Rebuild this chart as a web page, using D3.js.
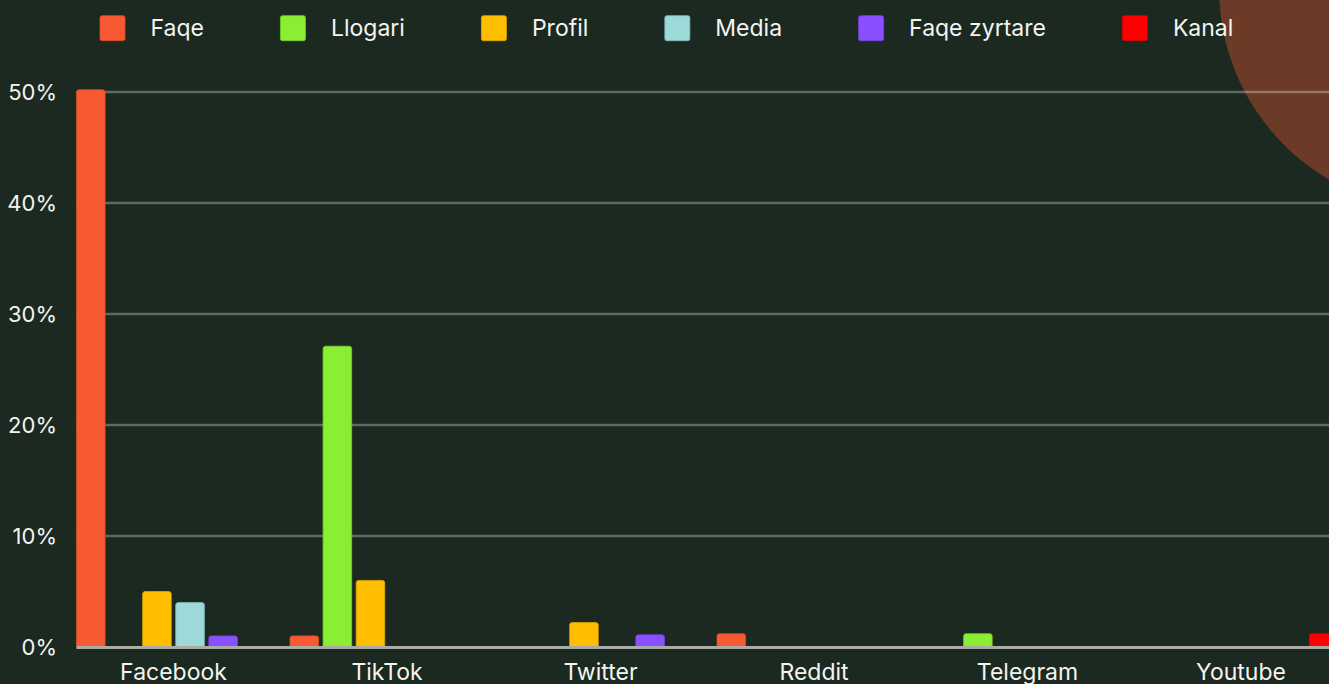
<!DOCTYPE html>
<html>
<head>
<meta charset="utf-8">
<script src="https://cdn.jsdelivr.net/npm/d3@7"></script>
<style>
  html, body { margin: 0; padding: 0; background: #1b2920; overflow: hidden; }
  svg { display: block; }
  text { font-family: Inter, "Noto Sans", sans-serif; fill: #f4f4f0; }
</style>
</head>
<body>
<svg id="chart" width="1329" height="684"></svg>
<script>
const categories = ["Facebook", "TikTok", "Twitter", "Reddit", "Telegram", "Youtube"];
const seriesNames = ["Faqe", "Llogari", "Profil", "Media", "Faqe zyrtare", "Kanal"];
const seriesColors = ["#f75a32", "#8aee32", "#ffbf00", "#9dd9d9", "#8a50ff", "#ff0000"];
// values in percent, one array per series, aligned with categories
const faqe        = [50.2, 1.0, 0,   1.2, 0,   0];
const llogari     = [0,   27.1, 0,   0,   1.2, 0];
const profil      = [5.0,  6.0, 2.2, 0,   0,   0];
const media       = [4.0,  0,   0,   0,   0,   0];
const faqeZyrtare = [1.0,  0,   1.1, 0,   0,   0];
const kanal       = [0,    0,   0,   0,   0,   1.2];
const yTicks = [0, 10, 20, 30, 40, 50];

const seriesValues = [faqe, llogari, profil, media, faqeZyrtare, kanal];
const W = 1329, H = 684;
const svg = d3.select("#chart");

// decorative circle
svg.append("circle").attr("cx", 1441).attr("cy", -12).attr("r", 222).attr("fill", "#6b3b27");

const plotLeft = 76.5, plotRight = 1338, yTop = 92, yBottom = 647;
const y = d3.scaleLinear().domain([0, 50]).range([yBottom, yTop]);
const x0 = d3.scaleBand().domain(categories).range([plotLeft, plotRight]).paddingInner(0.0913).paddingOuter(0);
const x1 = d3.scaleBand().domain(seriesNames).range([0, x0.bandwidth()]).paddingInner(0.136).paddingOuter(0);

// gridlines
svg.append("g").selectAll("line").data(yTicks.filter(t => t > 0)).join("line")
  .attr("x1", plotLeft).attr("x2", W + 20)
  .attr("y1", d => y(d)).attr("y2", d => y(d))
  .attr("stroke", "rgba(255,255,255,0.3)").attr("stroke-width", 2.5);

// y tick labels
svg.append("g").selectAll("text").data(yTicks).join("text")
  .attr("x", 57).attr("y", d => y(d) + 8)
  .attr("text-anchor", "end").attr("font-size", 22)
  .text(d => d + "%");

// bars
const rows = [];
categories.forEach((c, i) => seriesNames.forEach((s, j) => rows.push({c, s, j, v: seriesValues[j][i]})));
const r = 2.5;
svg.append("g").selectAll("path").data(rows.filter(d => d.v > 0)).join("path")
  .attr("d", d => {
    const bx = x0(d.c) + x1(d.s), bw = x1.bandwidth();
    const top = y(d.v), bot = y(0);
    const rr = Math.min(r, (bot - top) / 2);
    return `M${bx},${bot}V${top + rr}Q${bx},${top} ${bx + rr},${top}H${bx + bw - rr}Q${bx + bw},${top} ${bx + bw},${top + rr}V${bot}Z`;
  })
  .attr("fill", d => seriesColors[d.j])
  .attr("stroke", d => d3.color(seriesColors[d.j]).darker(0.4))
  .attr("stroke-width", 0.8);

// baseline
svg.append("line").attr("x1", plotLeft).attr("x2", W + 20)
  .attr("y1", y(0) + 0.5).attr("y2", y(0) + 0.5)
  .attr("stroke", "#a9aca6").attr("stroke-width", 3);

// x labels
svg.append("g").selectAll("text").data(categories).join("text")
  .attr("x", d => x0(d) + x0.bandwidth() / 2).attr("y", 680)
  .attr("text-anchor", "middle").attr("font-size", 23)
  .text(d => d);

// legend
const legend = svg.append("g");
let lx = 100;
seriesNames.forEach((s, j) => {
  legend.append("rect").attr("x", lx).attr("y", 15.7).attr("width", 25).attr("height", 25)
    .attr("rx", 2).attr("fill", seriesColors[j])
    .attr("stroke", d3.color(seriesColors[j]).darker(0.4)).attr("stroke-width", 0.8);
  const t = legend.append("text").attr("x", lx + 50.5).attr("y", 36).attr("font-size", 23).text(s);
  lx = lx + 50.5 + t.node().getComputedTextLength() + 76.5;
});
</script>
</body>
</html>
